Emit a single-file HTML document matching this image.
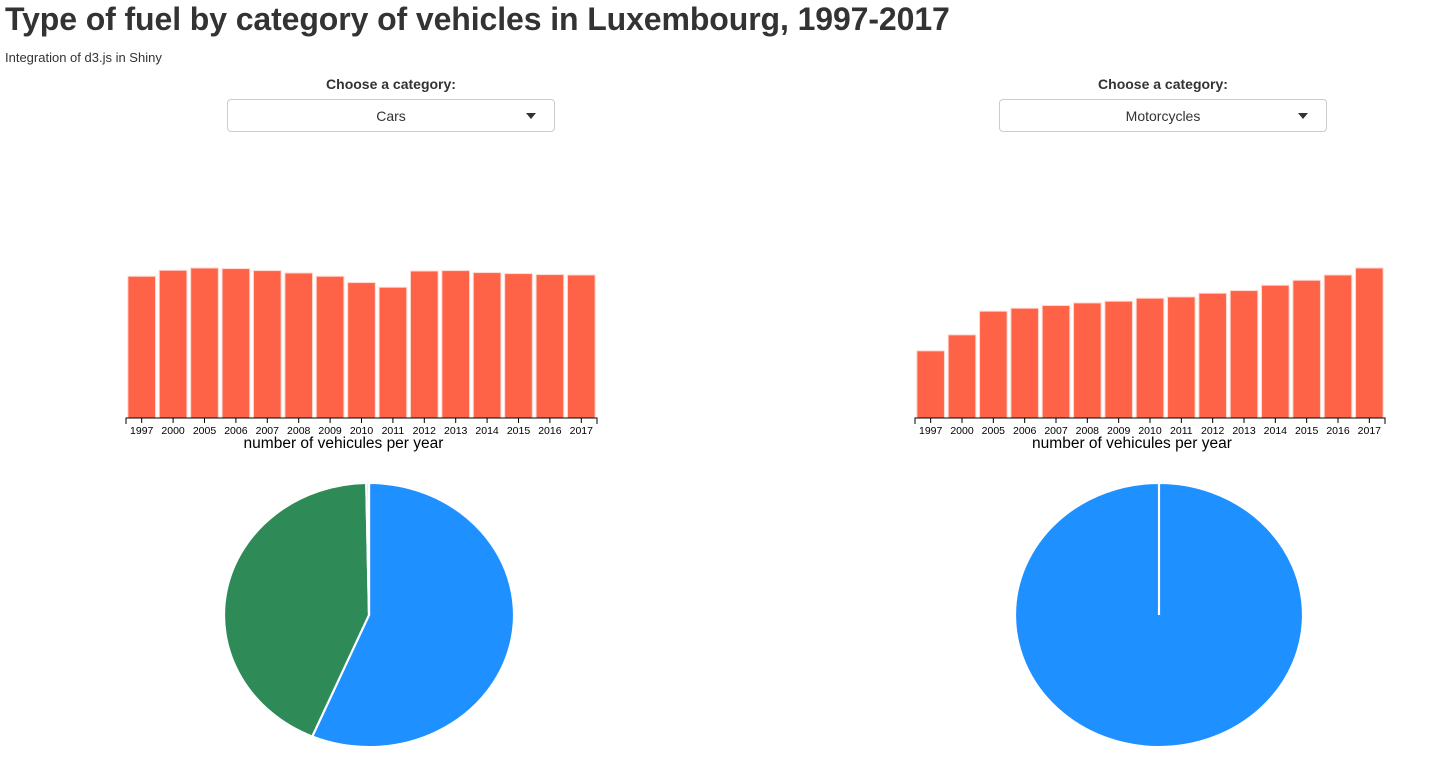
<!DOCTYPE html>
<html><head><meta charset="utf-8">
<style>
body{margin:0;width:1430px;height:760px;background:#fff;font-family:"Liberation Sans",Arial,sans-serif;color:#333;position:relative;overflow:hidden}
h1{position:absolute;left:5px;top:1px;margin:0;font-size:32px;font-weight:bold;color:#333;letter-spacing:-0.1px}
.sub{position:absolute;left:5px;top:50px;font-size:13px;font-weight:500}
.lab{position:absolute;width:328px;text-align:center;font-size:14px;font-weight:bold;top:76px}
.sel{position:absolute;top:99px;width:326px;height:33px;border:1px solid #ccc;border-radius:4px;box-sizing:border-box;font-size:14px;text-align:center;line-height:32px}
.sel .car{position:absolute;right:18px;top:13px;width:0;height:0;border-left:5px solid transparent;border-right:5px solid transparent;border-top:6px solid #333}
svg{position:absolute;left:0;top:0}
</style></head><body>
<h1>Type of fuel by category of vehicles in Luxembourg, 1997-2017</h1>
<div class="sub">Integration of d3.js in Shiny</div>
<div class="lab" style="left:227px">Choose a category:</div>
<div class="sel" style="left:227px;width:328px">Cars<span class="car"></span></div>
<div class="lab" style="left:999px">Choose a category:</div>
<div class="sel" style="left:999px;width:328px">Motorcycles<span class="car"></span></div>
<svg id="chart" width="1430" height="760"></svg>
<script>
const years = ["1997","2000","2005","2006","2007","2008","2009","2010","2011","2012","2013","2014","2015","2016","2017"];
const carsValues = [142,148,150.3,149.7,147.7,145.3,142,135.7,131,147.3,147.7,145.7,144.7,143.7,143.3];
const motoValues = [67.3,83.3,107,110,112.7,115.3,117,120,121.3,125,127.7,133,138,143.3,150.3];
const carsFuel = [56.4,43.3,0.3];
const motoFuel = [100];
const fuelLabels = ["Petrol","Diesel","Other"];
const fuelColors = ["#1e90ff","#2e8b57","#d3d3d3"];

const NS="http://www.w3.org/2000/svg";
const svg=document.getElementById('chart');
function mk(tag,attrs,parent){const e=document.createElementNS(NS,tag);for(const k in attrs)e.setAttribute(k,attrs[k]);(parent||svg).appendChild(e);return e;}

function barChart(x0,x1,base,h,vals,prefix){
  const g=mk('g',{});
  
  
  const n=years.length, step=(x1-x0)/n, pad=step*0.06;
  const max=Math.max(...vals);
  const y=v=>base-v/max*h;
  vals.forEach((v,i)=>{
    const r=mk('rect',{x:x0+i*step+pad,y:y(v),width:step-2*pad,height:base-y(v),fill:'#ff6347',stroke:'#ffd6cf','stroke-width':1},g);
    
    
  });
  const ax=mk('path',{d:`M${x0},${base+6}V${base}H${x1}V${base+6}`,stroke:'#000',fill:'none','stroke-width':1},g);
  
  
  years.forEach((yr,i)=>{
    const cx=x0+(i+0.5)*step;
    mk('line',{x1:cx,x2:cx,y1:base,y2:base+5,stroke:'#000'},g);
    const t=mk('text',{x:cx,y:base+16,'text-anchor':'middle','font-size':10.5,fill:'#000'},g);
    t.textContent=yr;
    
    
  });
  const t=mk('text',{x:(x0+x1)/2-18,y:base+30,'text-anchor':'middle','font-size':15.5,fill:'#000'},g);
  t.textContent='number of vehicules per year';
  
  
}
barChart(126,597,418,150,carsValues,'cars');
barChart(915,1385,418,150,motoValues,'moto');

function pie(cx,cy,rx,ry,vals,prefix){
  const g=mk('g',{transform:`translate(${cx},${cy}) scale(${rx/ry},1)`});
  
  
  const tot=vals.reduce((a,b)=>a+b,0);
  let a=0;const r=ry;
  vals.forEach((v,i)=>{
    const a2=a+v/tot*2*Math.PI;
    const p=(t)=>[r*Math.sin(t),-r*Math.cos(t)];
    let d;
    if(v/tot>=0.9999){
      d=`M0,0L0,${-r}A${r},${r} 0 1 1 0,${r}A${r},${r} 0 1 1 0,${-r}Z`;
    }else{
      const [sx,sy]=p(a),[ex,ey]=p(a2);
      d=`M0,0L${sx},${sy}A${r},${r} 0 ${a2-a>Math.PI?1:0} 1 ${ex},${ey}Z`;
    }
    const s=mk('path',{d:d,fill:fuelColors[i],stroke:'#fff','stroke-width':2},g);
    
    
    a=a2;
  });
}
pie(369,615,145,132,carsFuel,'cars');
pie(1159,615,144,132,motoFuel,'moto');
</script>
</body></html>
